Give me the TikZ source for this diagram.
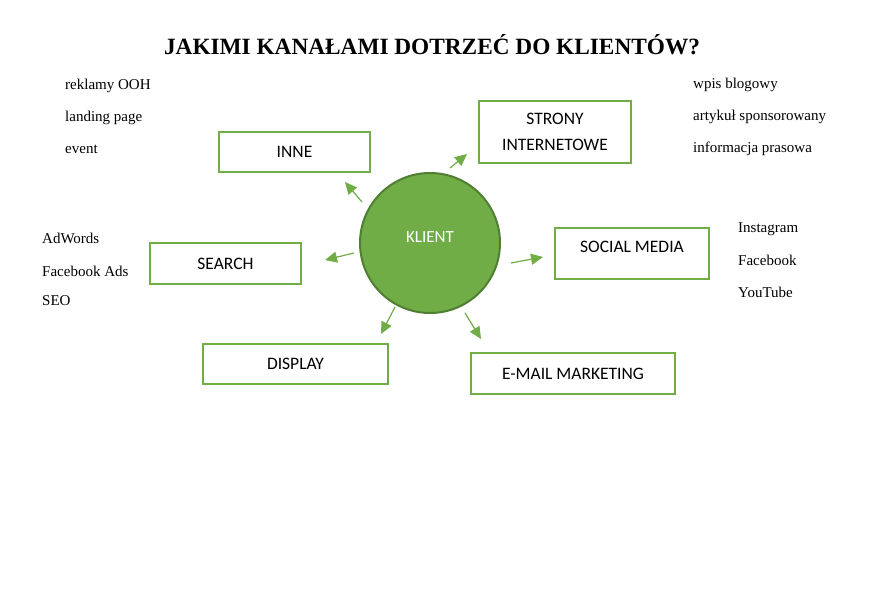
\documentclass[tikz,border=0pt]{standalone}
\usepackage{fontspec}
\setmainfont{Liberation Serif}
\newfontfamily\boxfont{Carlito}
\usetikzlibrary{arrows.meta}
\definecolor{grn}{HTML}{70AD47}
\definecolor{dgrn}{HTML}{507E32}
\tikzset{
  chbox/.style={draw=grn, line width=2pt, fill=white, inner sep=0pt, font=\boxfont\fontsize{17.5}{22}\selectfont, align=center},
  side/.style={anchor=west, inner sep=0pt, font=\fontsize{15}{17}\selectfont},
  arr/.style={grn, line width=1.2pt, -{Triangle[length=12pt,width=11pt]}},
}
\begin{document}
\begin{tikzpicture}[x=1pt,y=-1pt]
\useasboundingbox (0,0) rectangle (885,594);
\fill[white] (0,0) rectangle (885,594);
\node[font=\bfseries\fontsize{23.3}{27}\selectfont, inner sep=0pt] (title) at (432,45) {JAKIMI KANAŁAMI DOTRZEĆ DO KLIENTÓW?};

\node[circle, fill=grn, draw=dgrn, line width=2pt, minimum size=140pt, inner sep=0pt] (k) at (430,243) {};
\node[text=white, font=\boxfont\fontsize{17}{20}\selectfont, inner sep=0pt] (kt) at (430,237) {KLIENT};

\node[chbox, minimum width=151pt, minimum height=40pt] (inne) at (294.5,152) {INNE};
\node[chbox, minimum width=152pt, minimum height=62pt] (strony) at (555,132) {STRONY\\[4pt]INTERNETOWE};
\node[chbox, minimum width=151pt, minimum height=41pt] (search) at (225.5,263.5) {SEARCH};
\node[chbox, minimum width=154pt, minimum height=51pt, text depth=14pt] (social) at (632,253.5) {SOCIAL MEDIA};
\node[chbox, minimum width=185pt, minimum height=40pt] (display) at (295.5,364) {DISPLAY};
\node[chbox, minimum width=204pt, minimum height=41pt] (email) at (573,373.5) {E-MAIL MARKETING};

\coordinate (a1s) at (362,202); \coordinate (a1e) at (345,182);
\coordinate (a2s) at (354,253); \coordinate (a2e) at (325,260);
\coordinate (a3s) at (450,168); \coordinate (a3e) at (467,154);
\coordinate (a4s) at (511,263); \coordinate (a4e) at (543,257);
\coordinate (a5s) at (395,307); \coordinate (a5e) at (381,334);
\coordinate (a6s) at (465,313); \coordinate (a6e) at (481,339);
\draw[arr] (a1s) -- (a1e);
\draw[arr] (a2s) -- (a2e);
\draw[arr] (a3s) -- (a3e);
\draw[arr] (a4s) -- (a4e);
\draw[arr] (a5s) -- (a5e);
\draw[arr] (a6s) -- (a6e);

\node[side] (l1) at (65,86) {reklamy OOH};
\node[side] (l2) at (65,118) {landing page};
\node[side] (l3) at (65,149) {event};

\node[side] (r1) at (693,85) {wpis blogowy};
\node[side] (r2) at (693,117) {artykuł sponsorowany};
\node[side] (r3) at (693,149) {informacja prasowa};

\node[side] (s1) at (42,238) {AdWords};
\node[side] (s2) at (42,271) {Facebook Ads};
\node[side] (s3) at (42,301) {SEO};

\node[side] (m1) at (738,229) {Instagram};
\node[side] (m2) at (738,260) {Facebook};
\node[side] (m3) at (738,292) {YouTube};
\end{tikzpicture}
\end{document}
